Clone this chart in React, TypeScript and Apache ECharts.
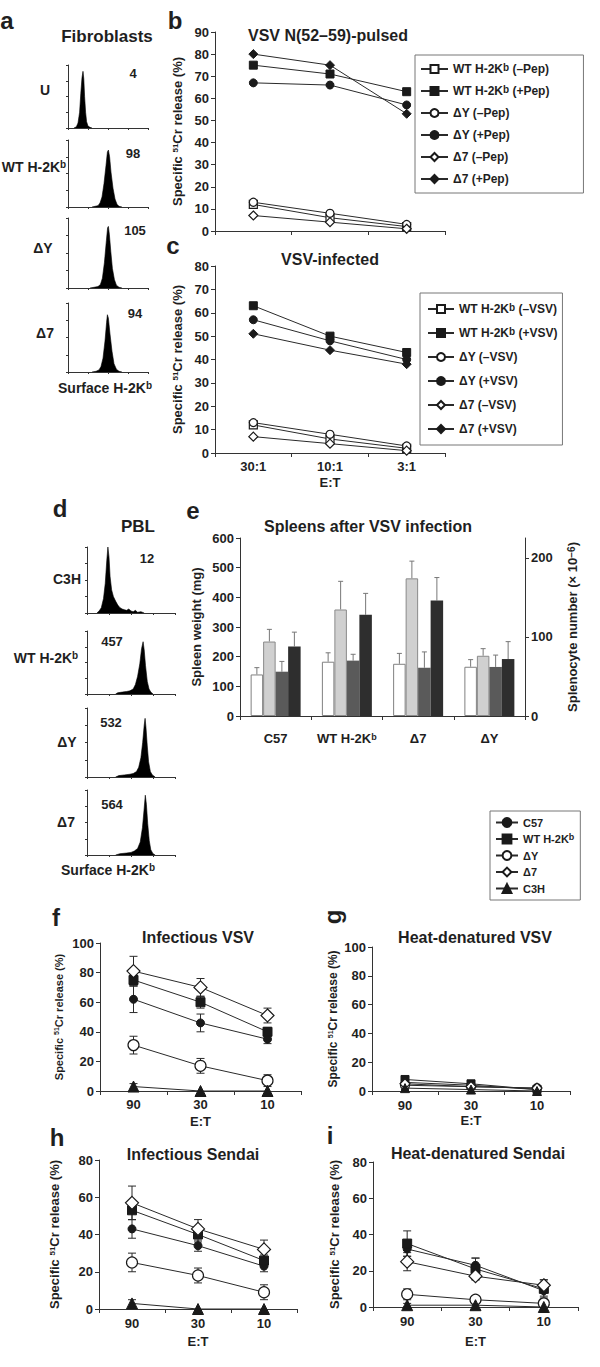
import React, { useEffect, useRef } from "react";
import * as echarts from "echarts";

const FONT = "'Liberation Sans', Arial, Helvetica, sans-serif";
const INK = "#1f1f1f";
const AX = "#333";

// ---------- a: fibroblast histograms ([log10 decade, % of max]) ----------
const fibroLabels = ["U", "WT H-2K{sup|b}", "ΔY", "Δ7"];
const fibroMFI = ["4", "98", "105", "94"];
const fibroU = [[0.3, 0], [0.42, 2], [0.5, 8], [0.58, 25], [0.64, 55], [0.7, 80], [0.75, 90], [0.79, 78], [0.83, 50], [0.88, 25], [0.93, 10], [1.0, 3], [1.1, 1], [1.2, 0]];
const fibroWT = [[1.2, 0], [1.35, 1], [1.5, 2], [1.6, 6], [1.7, 15], [1.8, 35], [1.9, 62], [1.97, 82], [2.02, 85], [2.08, 75], [2.15, 52], [2.25, 28], [2.35, 12], [2.45, 4], [2.55, 1], [2.7, 0]];
const fibroDY = [[1.1, 0], [1.3, 1], [1.5, 2], [1.62, 5], [1.72, 14], [1.82, 36], [1.92, 68], [1.98, 86], [2.02, 88], [2.07, 76], [2.14, 52], [2.22, 28], [2.32, 12], [2.42, 4], [2.55, 1], [2.7, 0]];
const fibroD7 = [[1.2, 0], [1.4, 1], [1.55, 3], [1.65, 8], [1.75, 20], [1.85, 45], [1.93, 72], [1.97, 83], [2.02, 78], [2.1, 55], [2.2, 30], [2.3, 12], [2.42, 4], [2.55, 1], [2.7, 0]];

// ---------- d: PBL histograms ----------
const pblLabels = ["C3H", "WT H-2K{sup|b}", "ΔY", "Δ7"];
const pblMFI = ["12", "457", "532", "564"];
const pblC3H = [[0.45, 0], [0.55, 3], [0.65, 8], [0.75, 22], [0.83, 45], [0.9, 80], [0.95, 100], [1.0, 85], [1.05, 55], [1.12, 35], [1.2, 25], [1.3, 18], [1.4, 12], [1.5, 8], [1.6, 6], [1.7, 5], [1.8, 4], [1.9, 6], [2.0, 3], [2.1, 2], [2.2, 4], [2.3, 1], [2.45, 2], [2.6, 0]];
const pblWT = [[1.3, 0], [1.4, 2], [1.6, 3], [1.8, 4], [1.95, 5], [2.1, 8], [2.2, 15], [2.3, 28], [2.4, 48], [2.48, 72], [2.55, 83], [2.6, 70], [2.66, 45], [2.74, 20], [2.82, 8], [2.9, 3], [3.0, 0]];
const pblDY = [[1.3, 0], [1.45, 2], [1.7, 3], [1.95, 4], [2.1, 5], [2.25, 8], [2.35, 14], [2.45, 28], [2.53, 50], [2.6, 75], [2.64, 85], [2.68, 72], [2.74, 45], [2.8, 22], [2.88, 8], [2.97, 3], [3.1, 0]];
const pblD7 = [[1.3, 0], [1.5, 2], [1.8, 3], [2.0, 4], [2.15, 6], [2.3, 10], [2.42, 20], [2.52, 42], [2.6, 72], [2.65, 92], [2.7, 78], [2.76, 48], [2.83, 22], [2.9, 8], [3.0, 2], [3.1, 0]];

// ---------- b / c ----------
const etBC = ["30:1", "10:1", "3:1"];
const pepWtMinus = [12, 6, 2];
const pepWtPlus = [75, 71, 63];
const pepDyMinus = [13, 8, 3];
const pepDyPlus = [67, 66, 57];
const pepD7Minus = [7, 4, 1];
const pepD7Plus = [80, 75, 53];

const vsvWtMinus = [12, 6, 2];
const vsvWtPlus = [63, 50, 43];
const vsvDyMinus = [13, 8, 3];
const vsvDyPlus = [57, 48, 40];
const vsvD7Minus = [7, 4, 1];
const vsvD7Plus = [51, 44, 38];

// ---------- e ----------
const spleenGroups = ["C57", "WT H-2Kb", "Δ7", "ΔY"];
const weightUninf = [140, 183, 176, 166];
const weightUninfErr = [23, 30, 35, 24];
const weightInf = [251, 359, 464, 203];
const weightInfErr = [41, 95, 58, 24];
const cellsUninf = [56, 70, 61, 62];
const cellsUninfErr = [13, 8, 20, 15];
const cellsInf = [88, 128, 146, 72];
const cellsInfErr = [18, 27, 29, 22];

// ---------- f - i ----------
const etFI = ["90", "30", "10"];
const fC57 = [62, 46, 35], fC57e = [9, 6, 3];
const fWT = [75, 60, 40], fWTe = [4, 4, 3];
const fDY = [31, 17, 7], fDYe = [6, 5, 4];
const fD7 = [81, 70, 51], fD7e = [10, 6, 5];
const fC3H = [3, 0, 0], fC3He = [2, 0, 0];

const gC57 = [6, 4, 1], gC57e = [1, 1, 1];
const gWT = [8, 5, 1], gWTe = [1, 1, 1];
const gDY = [4, 3, 2], gDYe = [1, 1, 1];
const gD7 = [5, 3, 2], gD7e = [1, 1, 1];
const gC3H = [2, 1, 0], gC3He = [1, 0, 0];

const hC57 = [43, 34, 23], hC57e = [5, 3, 3];
const hWT = [53, 40, 26], hWTe = [5, 4, 3];
const hDY = [25, 18, 9], hDYe = [5, 4, 4];
const hD7 = [57, 43, 32], hD7e = [9, 5, 5];
const hC3H = [3, 0, 0], hC3He = [2, 0, 0];

const iC57 = [32, 23, 9], iC57e = [4, 4, 3];
const iWT = [35, 21, 10], iWTe = [7, 6, 5];
const iDY = [7, 4, 2], iDYe = [3, 1, 1];
const iD7 = [25, 17, 12], iD7e = [5, 2, 3];
const iC3H = [1, 1, 0], iC3He = [1, 0, 0];

const supFmt = (s: string) => s.replace("H-2Kb", "H-2K{sup|b}");

function richSup(size: number) {
  const s = Math.round(size * 0.72);
  return {
    sup: { fontSize: s, fontWeight: "bold", fontFamily: FONT, color: INK, fill: INK, verticalAlign: "top", lineHeight: s },
  };
}

function txt(text: string, x: number, y: number, size: number, extra: any = {}) {
  return {
    type: "text",
    x,
    y,
    rotation: extra.rotation || 0,
    silent: true,
    z: 100,
    style: {
      text,
      fontSize: size,
      fontWeight: "bold",
      fontFamily: FONT,
      fill: extra.fill || INK,
      align: extra.align || "center",
      verticalAlign: "middle",
      textAlign: extra.align || "center",
      textVerticalAlign: "middle",
      lineHeight: size + 2,
      rich: richSup(size),
    },
  };
}

function buildOption() {
  const grid: any[] = [];
  const xAxis: any[] = [];
  const yAxis: any[] = [];
  const series: any[] = [];
  const legend: any[] = [];
  const graphic: any[] = [];

  const addGrid = (left: number, top: number, width: number, height: number) => {
    grid.push({ left, top, width, height, containLabel: false, outerBoundsMode: "none" });
    return grid.length - 1;
  };

  const hist = (left: number, top: number, width: number, height: number, pts: number[][]) => {
    const gi = addGrid(left, top, width, height);
    xAxis.push({
      gridIndex: gi, type: "value", min: 0, max: 4, interval: 1,
      axisLine: { show: true, lineStyle: { color: AX, width: 1 } },
      axisTick: { show: true, length: 2, lineStyle: { color: AX, width: 1 } },
      minorTick: { show: true, splitNumber: 5, length: 1, lineStyle: { color: AX } },
      axisLabel: { show: false }, splitLine: { show: false }, minorSplitLine: { show: false },
    });
    yAxis.push({
      gridIndex: gi, type: "value", min: 0, max: 100, interval: 25,
      axisLine: { show: true, lineStyle: { color: AX, width: 1 } },
      axisTick: { show: true, length: 2, lineStyle: { color: AX } },
      axisLabel: { show: false }, splitLine: { show: false },
    });
    series.push({
      type: "line", xAxisIndex: gi, yAxisIndex: gi, data: pts, symbol: "none", silent: true,
      lineStyle: { color: "#000", width: 0.6 }, areaStyle: { color: "#000", opacity: 1 },
    });
  };

  // a
  const fibroData = [fibroU, fibroWT, fibroDY, fibroD7];
  const fibroTop = [65, 140, 218, 303];
  const fibroH = [63, 67, 70, 69];
  fibroData.forEach((d, i) => hist(68, fibroTop[i], 80, fibroH[i], d));
  // d
  const pblData = [pblC3H, pblWT, pblDY, pblD7];
  const pblTop = [547, 631, 708, 790];
  const pblH = [66, 63, 69, 65];
  pblData.forEach((d, i) => hist(87, pblTop[i], 88, pblH[i], d));

  const linePanel = (p: any) => {
    const gi = addGrid(p.left, p.top, p.width, p.height);
    xAxis.push({
      gridIndex: gi, type: "category", data: p.cats, boundaryGap: true,
      axisLine: { show: true, lineStyle: { color: AX, width: 1 } },
      axisTick: { show: true, length: 4, alignWithLabel: false, lineStyle: { color: AX } },
      axisLabel: { show: p.xLabels, interval: 0, margin: p.xMargin || 7, fontSize: 13, fontWeight: "bold", fontFamily: FONT, color: INK },
      name: p.xLabels ? "E:T" : "", nameLocation: "middle", nameGap: p.xNameGap || 24,
      nameTextStyle: { fontSize: 13, fontWeight: "bold", fontFamily: FONT, color: INK },
      splitLine: { show: false },
    });
    yAxis.push({
      gridIndex: gi, type: "value", min: 0, max: p.ymax, interval: p.yint,
      axisLine: { show: true, lineStyle: { color: AX, width: 1 } },
      axisTick: { show: true, length: 4, lineStyle: { color: AX } },
      axisLabel: { margin: 6, fontSize: 13, fontWeight: "bold", fontFamily: FONT, color: INK },
      splitLine: { show: false },
      name: "Specific {sup|51}Cr release (%)", nameLocation: "middle", nameRotate: 90, nameGap: p.yNameGap,
      nameTextStyle: {
        fontSize: p.yNameSize, fontWeight: "bold", fontFamily: FONT, color: INK,
        rich: { sup: { fontSize: Math.round(p.yNameSize * 0.6), fontWeight: "bold", fontFamily: FONT, color: INK, verticalAlign: "top", lineHeight: 8 } },
      },
    });
    return gi;
  };

  const lineS = (name: string, gi: number, data: number[], sym: string, open: boolean, size: number) => ({
    name, type: "line", xAxisIndex: gi, yAxisIndex: gi, data, symbol: sym, symbolSize: size, showSymbol: true, silent: true, z: 3,
    lineStyle: { color: "#2a2a2a", width: 1 },
    itemStyle: open ? { color: "#fff", borderColor: "#1a1a1a", borderWidth: 1.2 } : { color: "#1a1a1a", borderColor: "#1a1a1a", borderWidth: 1 },
  });

  const errS = (gi: number, means: number[], errs: number[]) => ({
    type: "custom", xAxisIndex: gi, yAxisIndex: gi, silent: true, z: 2, clip: false,
    data: means.map((m, i) => [i, m, errs[i]]),
    encode: { x: 0, y: 1 },
    renderItem: (_p: any, api: any) => {
      const c = api.value(0), m = api.value(1), e = api.value(2);
      if (!e) return null;
      const t = api.coord([c, m + e]);
      const b = api.coord([c, m - e]);
      const w = 4;
      const st = { stroke: "#2a2a2a", lineWidth: 1 };
      return {
        type: "group",
        children: [
          { type: "line", shape: { x1: t[0], y1: t[1], x2: b[0], y2: b[1] }, style: st },
          { type: "line", shape: { x1: t[0] - w, y1: t[1], x2: t[0] + w, y2: t[1] }, style: st },
          { type: "line", shape: { x1: b[0] - w, y1: b[1], x2: b[0] + w, y2: b[1] }, style: st },
        ],
      };
    },
  });

  // b
  const gb = linePanel({ left: 215, top: 32, width: 230, height: 199, cats: etBC, xLabels: false, ymax: 90, yint: 10, yNameGap: 31, yNameSize: 13 });
  const bNames = ["WT H-2Kb (–Pep)", "WT H-2Kb (+Pep)", "ΔY (–Pep)", "ΔY (+Pep)", "Δ7 (–Pep)", "Δ7 (+Pep)"];
  series.push(
    lineS(bNames[0], gb, pepWtMinus, "rect", true, 8),
    lineS(bNames[1], gb, pepWtPlus, "rect", false, 8),
    lineS(bNames[2], gb, pepDyMinus, "circle", true, 8),
    lineS(bNames[3], gb, pepDyPlus, "circle", false, 8),
    lineS(bNames[4], gb, pepD7Minus, "diamond", true, 9),
    lineS(bNames[5], gb, pepD7Plus, "diamond", false, 9),
  );
  // c
  const gc = linePanel({ left: 215, top: 266, width: 230, height: 187, cats: etBC, xLabels: true, xMargin: 7, xNameGap: 23, ymax: 80, yint: 10, yNameGap: 31, yNameSize: 13 });
  const cNames = ["WT H-2Kb (–VSV)", "WT H-2Kb (+VSV)", "ΔY (–VSV)", "ΔY (+VSV)", "Δ7 (–VSV)", "Δ7 (+VSV)"];
  series.push(
    lineS(cNames[0], gc, vsvWtMinus, "rect", true, 8),
    lineS(cNames[1], gc, vsvWtPlus, "rect", false, 8),
    lineS(cNames[2], gc, vsvDyMinus, "circle", true, 8),
    lineS(cNames[3], gc, vsvDyPlus, "circle", false, 8),
    lineS(cNames[4], gc, vsvD7Minus, "diamond", true, 9),
    lineS(cNames[5], gc, vsvD7Plus, "diamond", false, 9),
  );

  // e
  const ge = addGrid(240, 538, 285, 178);
  xAxis.push({
    gridIndex: ge, type: "category", data: spleenGroups, boundaryGap: true,
    axisLine: { show: true, lineStyle: { color: AX, width: 1 } },
    axisTick: { show: true, length: 4, interval: 0, alignWithLabel: false, lineStyle: { color: AX } },
    axisLabel: {
      interval: 0, margin: 16, fontSize: 13, fontWeight: "bold", fontFamily: FONT, color: INK,
      formatter: (v: string) => supFmt(v), rich: { sup: { fontSize: 9, fontWeight: "bold", fontFamily: FONT, color: INK, verticalAlign: "top", lineHeight: 9 } },
    },
    splitLine: { show: false },
  });
  yAxis.push({
    gridIndex: ge, type: "value", min: 0, max: 600, interval: 100, position: "left",
    axisLine: { show: true, lineStyle: { color: AX, width: 1 } },
    axisTick: { show: true, length: 4, lineStyle: { color: AX } },
    axisLabel: { margin: 6, fontSize: 13, fontWeight: "bold", fontFamily: FONT, color: INK },
    splitLine: { show: false },
    name: "Spleen weight (mg)", nameLocation: "middle", nameRotate: 90, nameGap: 37,
    nameTextStyle: { fontSize: 13, fontWeight: "bold", fontFamily: FONT, color: INK },
  });

  // f - i
  const fiNames = ["C57", "WT H-2Kb", "ΔY", "Δ7", "C3H"];
  const gf = linePanel({ left: 100, top: 943, width: 201, height: 148, cats: etFI, xLabels: true, xMargin: 7, xNameGap: 24, ymax: 100, yint: 20, yNameGap: 36, yNameSize: 11 });
  const gg = linePanel({ left: 372, top: 947, width: 198, height: 144, cats: etFI, xLabels: true, xMargin: 8, xNameGap: 23, ymax: 100, yint: 20, yNameGap: 33, yNameSize: 12 });
  const gh = linePanel({ left: 99, top: 1160, width: 198, height: 149, cats: etFI, xLabels: true, xMargin: 8, xNameGap: 26, ymax: 80, yint: 20, yNameGap: 38, yNameSize: 13 });
  const gi2 = linePanel({ left: 373, top: 1162, width: 205, height: 145, cats: etFI, xLabels: true, xMargin: 8, xNameGap: 28, ymax: 80, yint: 20, yNameGap: 32, yNameSize: 13 });

  // right axis of e
  const yRight = yAxis.length;
  yAxis.push({
    gridIndex: ge, type: "value", min: 0, max: 225, position: "right",
    axisLine: { show: true, lineStyle: { color: AX, width: 1 } },
    axisTick: { show: true, length: 4, lineStyle: { color: AX }, customValues: [0, 100, 200] },
    axisLabel: { margin: 6, fontSize: 13, fontWeight: "bold", fontFamily: FONT, color: INK, customValues: [0, 100, 200] },
    splitLine: { show: false },
    name: "Splenocyte number (× 10{sup|−6})", nameLocation: "middle", nameRotate: 90, nameGap: 41,
    nameTextStyle: {
      fontSize: 13, fontWeight: "bold", fontFamily: FONT, color: INK,
      rich: { sup: { fontSize: 10, fontWeight: "bold", fontFamily: FONT, color: INK, verticalAlign: "top", lineHeight: 9 } },
    },
  });

  const barStyles = [
    { color: "#ffffff", borderColor: "#808080", borderWidth: 1 },
    { color: "#d0d0d0", borderColor: "#8a8a8a", borderWidth: 1 },
    { color: "#5a5a5a", borderColor: "#5a5a5a", borderWidth: 0 },
    { color: "#2e2e2e", borderColor: "#2e2e2e", borderWidth: 0 },
  ];
  const barVals = [weightUninf, weightInf, cellsUninf, cellsInf];
  const barErrs = [weightUninfErr, weightInfErr, cellsUninfErr, cellsInfErr];
  const barAxis = [ge, ge, yRight, yRight];
  const BW = 12.5;
  barVals.forEach((vals, k) => {
    series.push({
      type: "bar", xAxisIndex: ge, yAxisIndex: barAxis[k], data: vals, barWidth: BW, barGap: "0%", silent: true, z: 2,
      itemStyle: barStyles[k],
    });
  });
  barVals.forEach((vals, k) => {
    const off = (k - 1.5) * BW;
    series.push({
      type: "custom", xAxisIndex: ge, yAxisIndex: barAxis[k], silent: true, z: 1, clip: false,
      data: vals.map((v, i) => [i, v, barErrs[k][i]]),
      encode: { x: 0, y: 1 },
      renderItem: (_p: any, api: any) => {
        const c = api.value(0), v = api.value(1), e = api.value(2);
        const a = api.coord([c, v]);
        const t = api.coord([c, v + e]);
        const x = a[0] + off;
        const st = { stroke: "#777", lineWidth: 1 };
        return {
          type: "group",
          children: [
            { type: "line", shape: { x1: x, y1: a[1], x2: x, y2: t[1] }, style: st },
            { type: "line", shape: { x1: x - 2.5, y1: t[1], x2: x + 2.5, y2: t[1] }, style: st },
          ],
        };
      },
    });
  });

  const fiSet = (gi: number, vals: number[][], errs: number[][], big: boolean) => {
    const syms: [string, boolean, number][] = big
      ? [["circle", false, 8], ["rect", false, 9], ["circle", true, 11], ["diamond", true, 13], ["triangle", false, 11]]
      : [["circle", false, 7], ["rect", false, 8], ["circle", true, 9], ["diamond", true, 10], ["triangle", false, 9]];
    vals.forEach((v, k) => series.push(errS(gi, v, errs[k])));
    vals.forEach((v, k) => series.push(lineS(fiNames[k], gi, v, syms[k][0], syms[k][1], syms[k][2])));
  };
  fiSet(gf, [fC57, fWT, fDY, fD7, fC3H], [fC57e, fWTe, fDYe, fD7e, fC3He], true);
  fiSet(gg, [gC57, gWT, gDY, gD7, gC3H], [gC57e, gWTe, gDYe, gD7e, gC3He], false);
  fiSet(gh, [hC57, hWT, hDY, hD7, hC3H], [hC57e, hWTe, hDYe, hD7e, hC3He], true);
  fiSet(gi2, [iC57, iWT, iDY, iD7, iC3H], [iC57e, iWTe, iDYe, iD7e, iC3He], true);

  const legendBase = (fs: number) => ({
    show: true, orient: "vertical", selectedMode: false, borderColor: "#777", borderWidth: 1, backgroundColor: "#fff",
    formatter: supFmt, z: 50,
    textStyle: {
      fontSize: fs, fontWeight: "bold", fontFamily: FONT, color: INK, lineHeight: fs + 2,
      rich: { sup: { fontSize: Math.round(fs * 0.8), fontWeight: "bold", fontFamily: FONT, color: INK, verticalAlign: "top", lineHeight: 8 } },
    },
  });
  legend.push({ ...legendBase(12), left: 415, top: 55, padding: [7, 34, 7, 5], itemGap: 8, itemWidth: 27, itemHeight: 10, data: bNames });
  legend.push({ ...legendBase(12), left: 420, top: 293, padding: [9, 5, 9, 7], itemGap: 10, itemWidth: 26, itemHeight: 10, data: cNames });
  legend.push({ ...legendBase(11), left: 490, top: 811, padding: [5, 6, 5, 5], itemGap: 3.5, itemWidth: 22, itemHeight: 11, data: fiNames });

  // texts
  const L = 24;
  graphic.push(
    txt("a", 7, 20, L), txt("b", 175, 20, L), txt("c", 173, 245, L), txt("d", 60, 508, L), txt("e", 193, 510, L),
    txt("f", 56, 917, L), txt("g", 332, 917, L, { rotation: Math.PI / 2 }), txt("h", 57, 1137, L), txt("i", 330, 1135, L),
  );
  graphic.push(txt("Fibroblasts", 107, 36, 17), txt("PBL", 138, 526, 17));
  const fibLabX = [45, 34, 43, 45];
  const fibLabY = [90, 167, 248, 333];
  const fibNumX = [133, 133, 135, 135];
  const fibNumY = [73, 153, 230, 313];
  fibroLabels.forEach((t, i) => graphic.push(txt(t, fibLabX[i], fibLabY[i], 14)));
  fibroMFI.forEach((t, i) => graphic.push(txt(t, fibNumX[i], fibNumY[i], 13)));
  graphic.push(txt("Surface H-2K{sup|b}", 105, 388, 14));
  const pblLabX = [67, 46, 67, 66];
  const pblLabY = [579, 658, 742, 822];
  const pblNumX = [147, 112, 111, 112];
  const pblNumY = [558, 641, 722, 804];
  pblLabels.forEach((t, i) => graphic.push(txt(t, pblLabX[i], pblLabY[i], 14)));
  pblMFI.forEach((t, i) => graphic.push(txt(t, pblNumX[i], pblNumY[i], 13)));
  graphic.push(txt("Surface H-2K{sup|b}", 108, 870, 14));

  graphic.push(
    txt("VSV N(52–59)-pulsed", 328, 35, 16),
    txt("VSV-infected", 330, 259, 16),
    txt("Spleens after VSV infection", 368, 526, 16),
    txt("Infectious VSV", 198, 937, 16),
    txt("Heat-denatured VSV", 475, 937, 16),
    txt("Infectious Sendai", 193, 1154, 16),
    txt("Heat-denatured Sendai", 478, 1153, 16),
  );

  return {
    animation: false,
    backgroundColor: "#fff",
    textStyle: { fontFamily: FONT },
    grid, xAxis, yAxis, series, legend, graphic,
  };
}

export default function App() {
  const ref = useRef<HTMLDivElement>(null);
  useEffect(() => {
    const chart = echarts.init(ref.current as HTMLDivElement, null, { renderer: "svg" });
    chart.setOption(buildOption() as any);
    return () => chart.dispose();
  }, []);
  return (
    <div
      ref={ref}
      style={{ position: "absolute", left: 0, top: 0, width: 600, height: 1367, background: "#fff" }}
    />
  );
}
